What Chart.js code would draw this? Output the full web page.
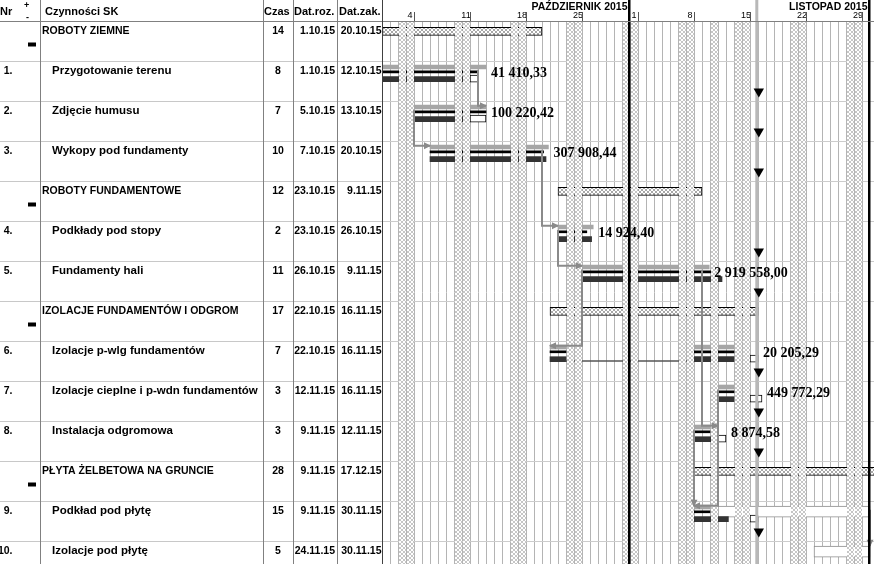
<!DOCTYPE html>
<html>
<head>
<meta charset="utf-8">
<script src="https://cdn.jsdelivr.net/npm/chart.js@4.4.1/dist/chart.umd.min.js"></script>
<style>
  html, body { margin: 0; padding: 0; background: #fff; overflow: hidden; }
  canvas { display: block; }
</style>
</head>
<body>
<canvas id="gantt" width="874" height="564"></canvas>
<script>
// table columns
const rowNr = ['', '1.', '2.', '3.', '', '4.', '5.', '', '6.', '7.', '8.', '', '9.', '10.'];
const taskNames = [
  'ROBOTY ZIEMNE', 'Przygotowanie terenu', 'Zdjęcie humusu', 'Wykopy pod fundamenty',
  'ROBOTY FUNDAMENTOWE', 'Podkłady pod stopy', 'Fundamenty hali',
  'IZOLACJE FUNDAMENTÓW I ODGROM', 'Izolacje p-wlg fundamentów', 'Izolacje cieplne i p-wdn fundamentów',
  'Instalacja odgromowa', 'PŁYTA ŻELBETOWA NA GRUNCIE', 'Podkład pod płytę', 'Izolacje pod płytę'
];
const durations = [14, 8, 7, 10, 12, 2, 11, 17, 7, 3, 3, 28, 15, 5];
const startDates = ['1.10.15', '1.10.15', '5.10.15', '7.10.15', '23.10.15', '23.10.15', '26.10.15',
  '22.10.15', '22.10.15', '12.11.15', '9.11.15', '9.11.15', '9.11.15', '24.11.15'];
const endDates = ['20.10.15', '12.10.15', '13.10.15', '20.10.15', '9.11.15', '26.10.15', '9.11.15',
  '16.11.15', '16.11.15', '16.11.15', '12.11.15', '17.12.15', '30.11.15', '30.11.15'];
const summaryRows = [0, 4, 7, 11];
const costLabels = ['', '41 410,33', '100 220,42', '307 908,44', '', '14 924,40', '2 919 558,00', '',
  '20 205,29', '449 772,29', '8 874,58', '', '', ''];

// bars: [row, from, to] in days counted from the start of 1 Oct 2015
const baselineBars = [[1, 0, 13], [2, 4, 13], [3, 6, 20.8], [5, 22, 26.4], [6, 25, 40.9],
  [8, 21, 23], [8, 39, 44], [9, 42, 44], [10, 39, 41], [12, 39, 41]];
const lineBars = [[1, 0, 12], [2, 4, 13], [3, 6, 20.2], [5, 22, 25.6], [6, 25, 41.2],
  [8, 21, 23], [8, 39, 44], [9, 42, 44], [10, 39, 41], [12, 39, 41]];
const actualBars = [[1, 0, 11], [2, 4, 12.5], [3, 6, 20.5], [5, 22, 26.2], [6, 25, 42.5],
  [8, 21, 23], [8, 39, 44], [9, 42, 44], [10, 39, 42], [12, 39, 43.3]];
const openBoxes = [[1, 11, 12], [2, 11, 13], [8, 46, 47], [9, 46, 47.5], [10, 42, 43], [12, 46, 47]];
const remainingBars = [[12, 42, 61], [13, 54, 61]];
const splitLines = [[8, 23, 39]];

// links: [fromRow, fromDay, toRow, toDay]
const links = [[1, 12, 2, 13], [2, 4, 3, 6], [3, 20, 5, 22], [5, 22, 6, 25], [6, 25, 8, 21],
  [6, 40, 10, 42], [10, 39, 12, 39], [9, 42, 12, 39], [12, 61, 13, 61]];
const progressRows = [1, 2, 3, 5, 6, 8, 9, 10, 12, 13];
const statusDay = 46.85;
const markerDay = 47.1;

// calendar
const nonWorkDays = [2, 3, 9, 10, 16, 17, 23, 24, 30, 31, 37, 38, 41, 44, 45, 51, 52, 58, 59];
const weekTickDays = [3, 10, 17, 24, 31, 38, 45, 52, 59];
const weekTickLabels = ['4', '11', '18', '25', '1', '8', '15', '22', '29'];
const monthNames = ['PAŹDZIERNIK 2015', 'LISTOPAD 2015'];
const monthEnds = [31, 61];

function dayIndex(s) {
  const [d, m] = s.split('.').map(Number);
  return (m === 10 ? 0 : m === 11 ? 31 : 61) + d - 1;
}
const summaryBars = summaryRows.map(r => [r, dayIndex(startDates[r]), dayIndex(endDates[r]) + 1]);

const canvas = document.getElementById('gantt');
const ctx = canvas.getContext('2d');

function hatchPattern(color) {
  const c = document.createElement('canvas');
  c.width = c.height = 4;
  const g = c.getContext('2d');
  g.fillStyle = '#fff';
  g.fillRect(0, 0, 4, 4);
  g.fillStyle = color;
  for (let i = 0; i < 4; i++) {
    g.fillRect(i, i, 1, 1);
    g.fillRect(3 - i, i, 1, 1);
  }
  return ctx.createPattern(c, 'repeat');
}
const weekendHatch = hatchPattern('#c6c6c6');
const summaryHatch = hatchPattern('#a8a8a8');

function barSet(label, list, offset, thickness, fill, border, order) {
  return {
    type: 'bar', label, order,
    data: list.map(([r, a, b]) => ({ x: [a, b], y: r + offset })),
    backgroundColor: fill,
    borderColor: border || fill,
    borderWidth: border ? 1 : 0,
    borderSkipped: false,
    barThickness: thickness,
    stack: 'rows'
  };
}

const font = (size, bold, family) =>
  (bold ? 'bold ' : '') + size + 'px ' + (family || '"Liberation Sans", Arial, sans-serif');

const ganttDecor = {
  id: 'ganttDecor',
  beforeDatasetDraw(chart, args) {
    if (chart.data.datasets[args.index].label !== 'markers') return;
    const { ctx, chartArea: a, scales: { x, y } } = chart;
    const H = chart.height;
    ctx.save();
    ctx.beginPath();
    ctx.rect(a.left, a.top, a.right - a.left, a.bottom - a.top);
    ctx.clip();
    nonWorkDays.forEach(d => {
      const l = x.getPixelForValue(d), r = x.getPixelForValue(d + 1);
      ctx.fillStyle = weekendHatch;
      ctx.fillRect(l + 1, a.top + 1, r - l - 1, a.bottom - a.top);
    });
    // links
    ctx.strokeStyle = '#8a8a8a';
    ctx.fillStyle = '#8a8a8a';
    ctx.lineWidth = 2;
    links.forEach(([r1, d1, r2, d2]) => {
      const sx = x.getPixelForValue(d1), ex = x.getPixelForValue(d2);
      const sy = y.getPixelForValue(r1 + 0.22), ey = y.getPixelForValue(r2 + 0.12);
      ctx.beginPath();
      ctx.moveTo(sx, sy);
      ctx.lineTo(sx, ey);
      ctx.lineTo(ex, ey);
      ctx.stroke();
      const dir = Math.sign(ex - sx);
      ctx.beginPath();
      if (dir) {
        ctx.moveTo(ex + dir, ey);
        ctx.lineTo(ex - dir * 6, ey - 3.5);
        ctx.lineTo(ex - dir * 6, ey + 3.5);
      } else {
        ctx.moveTo(sx, ey + 1);
        ctx.lineTo(sx - 3.5, ey - 6);
        ctx.lineTo(sx + 3.5, ey - 6);
      }
      ctx.fill();
    });
    ctx.restore();

    // status line and month borders
    ctx.fillStyle = '#b8b8b8';
    ctx.fillRect(x.getPixelForValue(statusDay) - 1.5, 0, 3, H);
    ctx.fillStyle = '#000';
    monthEnds.forEach(d => ctx.fillRect(x.getPixelForValue(d) - 2, 0, 2.5, H));

    // cost labels
    ctx.font = font(14, true, '"Liberation Serif", "Times New Roman", serif');
    ctx.textAlign = 'left';
    ctx.textBaseline = 'alphabetic';
    costLabels.forEach((t, r) => {
      if (!t) return;
      const ends = baselineBars.concat(openBoxes).filter(b => b[0] === r).map(b => b[2]);
      ctx.fillText(t, x.getPixelForValue(Math.max(...ends)) + 5, y.getPixelForValue(r + 0.4));
    });
  },
  afterDraw(chart) {
    const { ctx, chartArea: a, scales: { x, y } } = chart;
    const H = chart.height;
    ctx.save();
    ctx.fillStyle = '#000';
    ctx.textBaseline = 'alphabetic';

    // header
    ctx.font = font(11, true);
    ctx.textAlign = 'left';
    ctx.fillText('Nr', 0, 15);
    ctx.fillText('Czynności SK', 45, 15);
    ctx.fillText('Czas', 264, 15);
    ctx.fillText('Dat.roz.', 294, 15);
    ctx.fillText('Dat.zak.', 339, 15);
    ctx.font = font(9, true);
    ctx.fillText('+', 24, 8);
    ctx.fillText('-', 26, 20);

    // time scale header
    ctx.font = font(10.5, true);
    ctx.textAlign = 'right';
    monthNames.forEach((m, i) => ctx.fillText(m, x.getPixelForValue(monthEnds[i]) - 2.5, 10));
    ctx.font = font(9);
    ctx.textAlign = 'center';
    ctx.strokeStyle = '#555';
    ctx.lineWidth = 1;
    weekTickDays.forEach((d, i) => {
      ctx.fillText(weekTickLabels[i], x.getPixelForValue(d + 0.5), 18);
      const tx = x.getPixelForValue(d + 1) + 0.5;
      ctx.beginPath();
      ctx.moveTo(tx, 12);
      ctx.lineTo(tx, a.top);
      ctx.stroke();
    });

    // table rows
    taskNames.forEach((name, r) => {
      const top = y.getPixelForValue(r);
      const isSum = summaryRows.includes(r);
      ctx.textAlign = 'right';
      ctx.font = font(10.5, true);
      ctx.fillText(rowNr[r], 12.5, top + 13);
      ctx.textAlign = 'left';
      ctx.font = isSum ? font(10.5, true) : font(11.5, true);
      ctx.fillText(name, isSum ? 42 : 52, top + (isSum ? 12.5 : 13));
      ctx.font = font(10.5, true);
      ctx.textAlign = 'center';
      ctx.fillText(String(durations[r]), 278, top + 13);
      ctx.textAlign = 'right';
      ctx.fillText(startDates[r], 335, top + 13);
      ctx.fillText(endDates[r], 381.5, top + 13);
      if (isSum) ctx.fillRect(28, top + 21.5, 8, 4);
      ctx.fillStyle = '#c8c8c8';
      ctx.fillRect(0, top, a.left, 1);
      ctx.fillStyle = '#000';
    });

    // table frame
    ctx.fillStyle = '#808080';
    ctx.fillRect(0, a.top, chart.width, 1);
    [40, 263, 293, 337].forEach(cx => ctx.fillRect(cx, 0, 1, H));
    ctx.fillStyle = '#404040';
    ctx.fillRect(a.left, 0, 1, H);
    ctx.restore();
  }
};

new Chart(ctx, {
  type: 'bar',
  data: {
    datasets: [
      barSet('summary', summaryBars, 0.26, 8, summaryHatch, '#000', 9),
      barSet('remaining', remainingBars, 0.265, 11, '#fff', '#8a8a8a', 8),
      barSet('baseline', baselineBars, 0.15, 4, '#a6a6a6', null, 7),
      barSet('line', lineBars, 0.27, 2, '#000', null, 6),
      barSet('actual', actualBars, 0.455, 5, '#333', null, 5),
      barSet('split', splitLines, 0.5, 1, '#555', null, 4),
      barSet('open', openBoxes, 0.44, 7, '#fff', '#000', 3),
      {
        type: 'scatter', label: 'markers', order: 0,
        data: progressRows.map(r => ({ x: markerDay, y: r + 0.7625 })),
        pointStyle: 'triangle', rotation: 180, radius: 6,
        backgroundColor: '#000', borderColor: '#000', borderWidth: 0
      }
    ]
  },
  options: {
    indexAxis: 'y',
    responsive: false,
    animation: false,
    layout: { autoPadding: false, padding: { left: 382, top: 21, right: 0, bottom: 0 } },
    plugins: { legend: { display: false }, tooltip: { enabled: false } },
    scales: {
      x: {
        type: 'linear', position: 'top', min: 0, max: 61.5, stacked: false, offset: false,
        ticks: { display: false, stepSize: 1 },
        grid: { color: '#b4b4b4', drawTicks: false, offset: false },
        border: { display: false },
        afterFit: s => { s.height = 0; }
      },
      y: {
        type: 'linear', min: 0, max: 13.575, reverse: true, offset: false,
        ticks: { display: false, stepSize: 1 },
        grid: { color: '#cccccc', drawTicks: false, offset: false },
        border: { display: false },
        afterFit: s => { s.width = 0; }
      }
    }
  },
  plugins: [ganttDecor]
});
</script>
</body>
</html>
